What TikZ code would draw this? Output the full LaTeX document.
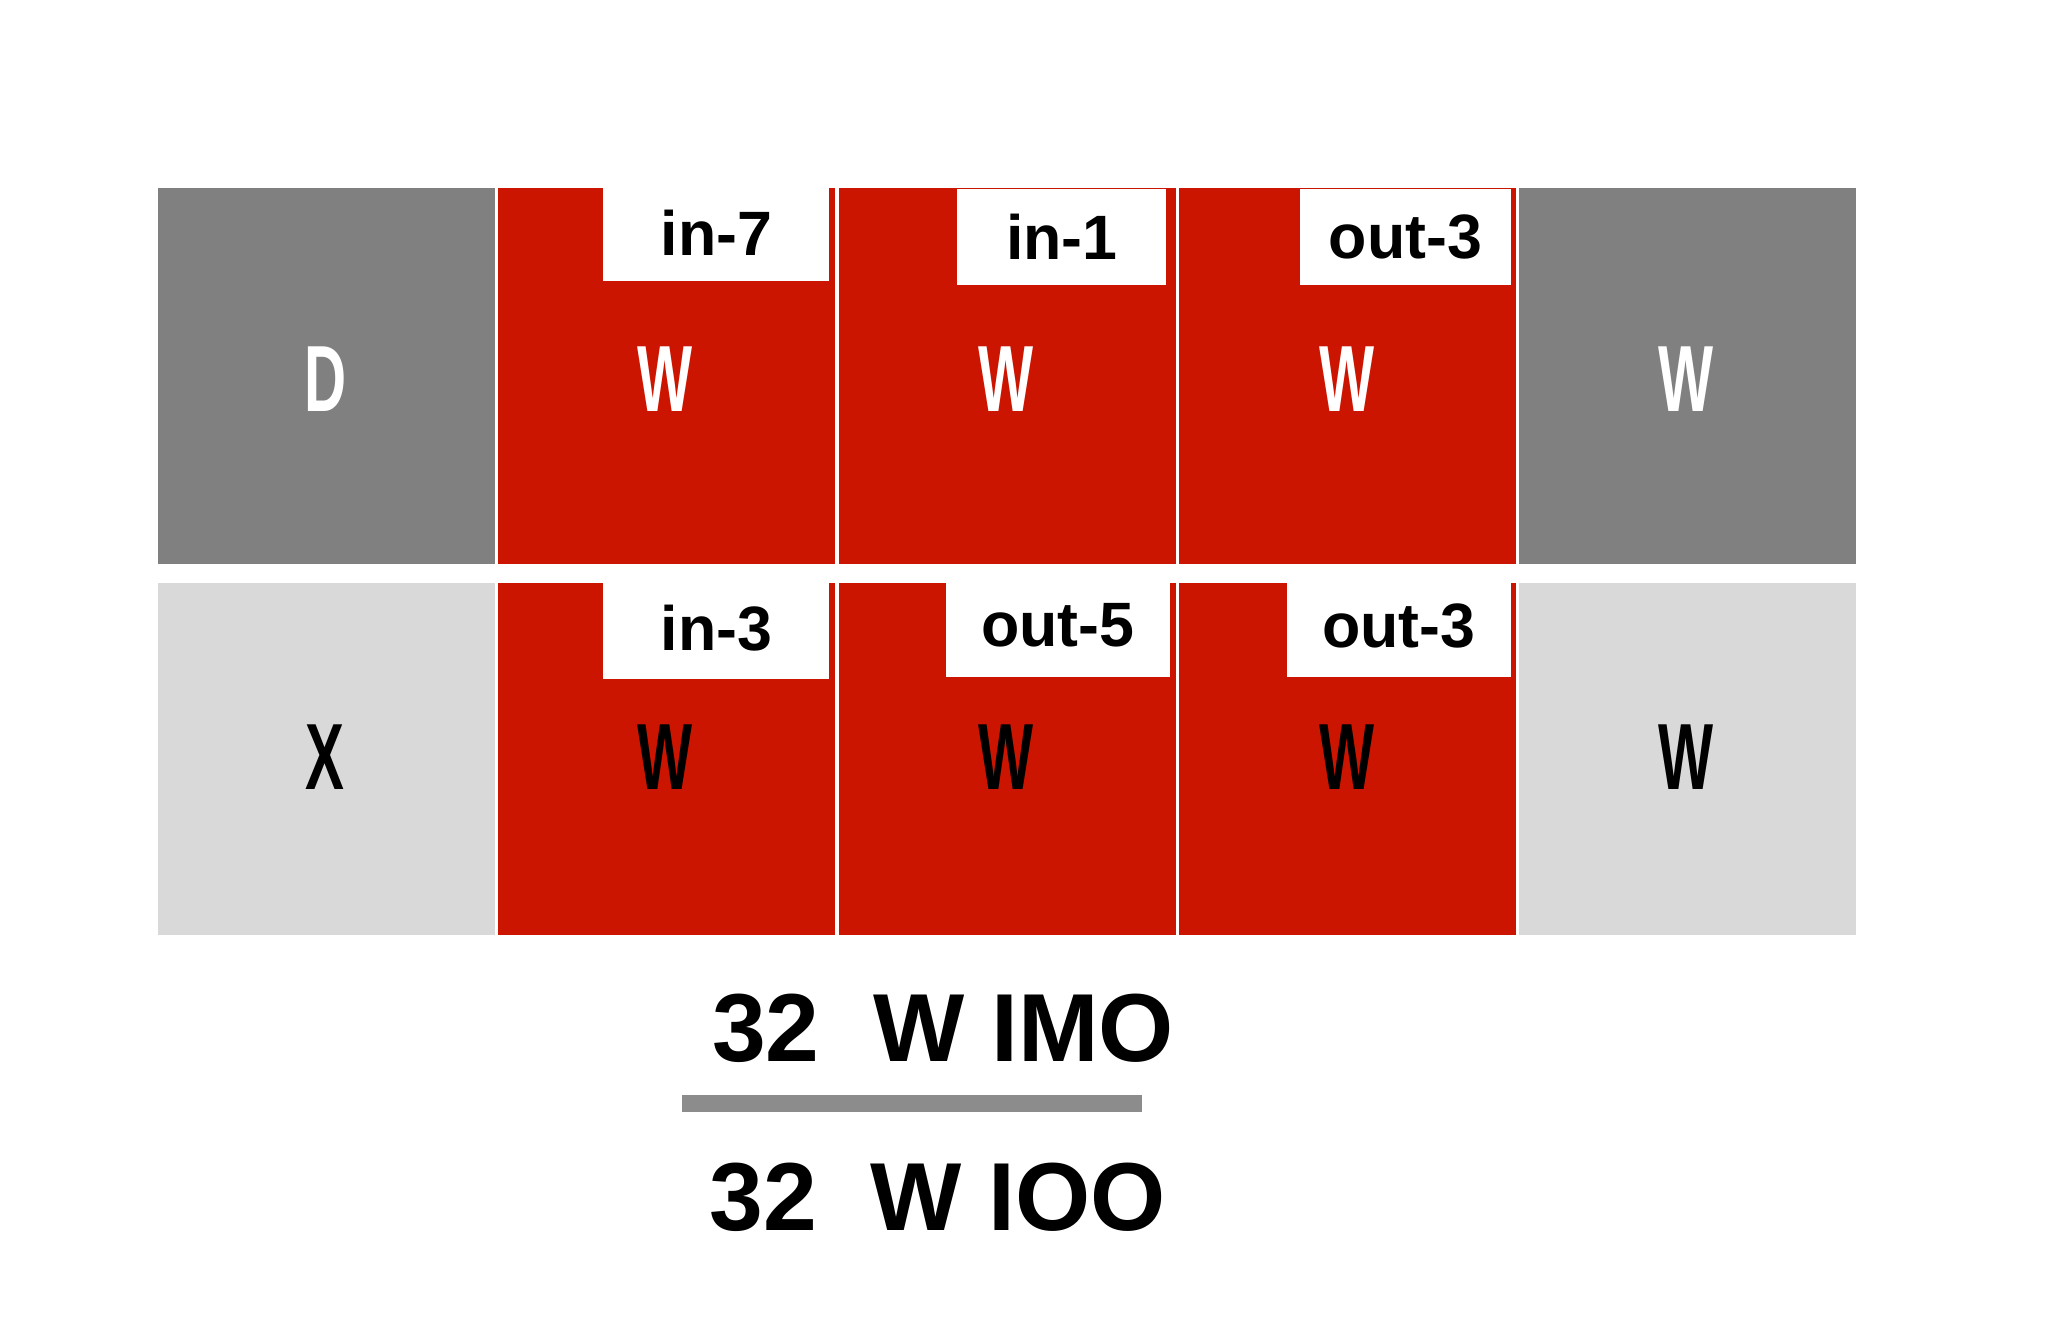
\documentclass[tikz,border=0pt]{standalone}
\usepackage{fontspec}
\setmainfont{Liberation Sans}
\begin{document}
\begin{tikzpicture}[x=1pt,y=-1pt,
  cell/.style={draw=white,line width=2pt,minimum width=260pt,inner sep=0pt,font=\bfseries\fontsize{72}{72}\selectfont},
  lbl/.style={fill=white,inner sep=0pt,font=\bfseries\fontsize{48}{48}\selectfont},
  big/.style={font=\bfseries\fontsize{74}{74}\selectfont}]
\useasboundingbox[fill=white] (0,0) rectangle (1568,1025);
\definecolor{dg}{HTML}{808080}\definecolor{lg}{HTML}{D9D9D9}\definecolor{rd}{HTML}{CC1500}
\newcommand\cw[1]{\scalebox{0.62}[1]{#1}}
% top row
\foreach \x/\c/\t [count=\i] in {119/dg/D,379/rd/W,640/rd/W,901/rd/W,1161/dg/W}{
  \node[cell,fill=\c,text=white,minimum height=290pt,anchor=north west] (t\i) at (\x,142) {};
  \node[cell,draw=none,text=white] (tt\i) at (\x+130,290) {\cw{\t}};
}
\foreach \x/\c/\t [count=\i] in {119/lg/X,379/rd/W,640/rd/W,901/rd/W,1161/lg/W}{
  \node[cell,fill=\c,text=black,minimum height=272pt,anchor=north west] (b\i) at (\x,444) {};
  \node[cell,draw=none,text=black] (bt\i) at (\x+130,580) {\cw{\t}};
}
% labels
\node[lbl,minimum width=173pt,minimum height=73pt] (l1) at (548.5,178.5) {in-7};
\node[lbl,minimum width=160pt,minimum height=73pt] (l2) at (813,181.5) {in-1};
\node[lbl,minimum width=162pt,minimum height=73pt] (l3) at (1076,181.5) {out-3};
\node[lbl,minimum width=173pt,minimum height=78pt] (l4) at (548.5,481) {in-3};
\node[lbl,minimum width=172pt,minimum height=78pt] (l5) at (810,479) {out-5};
\node[lbl,minimum width=172pt,minimum height=78pt] (l6) at (1071,479) {out-3};
% fraction
\node[big] (num) at (722,787) {32\ \ W IMO};
\node[fill=black!45,minimum width=352pt,minimum height=13pt,inner sep=0pt] (bar) at (698,844.5) {};
\node[big] (den) at (718,917) {32\ \ W IOO};
\end{tikzpicture}
\end{document}
